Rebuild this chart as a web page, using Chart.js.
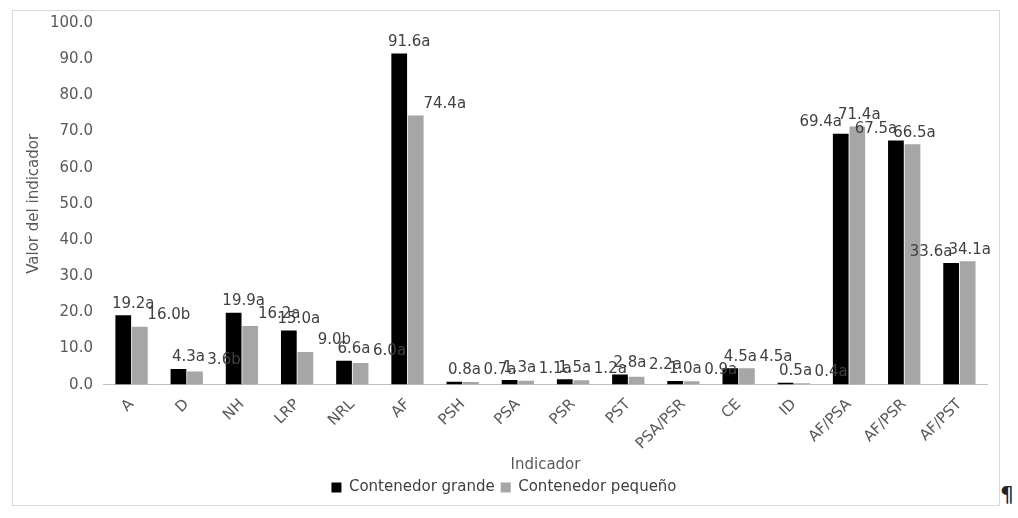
<!DOCTYPE html>
<html><head><meta charset="utf-8">
<script src="https://cdn.jsdelivr.net/npm/chart.js@4"></script>
<style>
body{margin:0;background:#fff;font-family:"DejaVu Sans",Verdana,sans-serif;}
#box{position:absolute;left:12px;top:10px;width:986px;height:494px;border:1px solid #d9d9d9;}
#pil{position:absolute;left:1000px;top:482px;font-size:22px;color:#222;}
</style></head><body>
<div id="box"><canvas id="c" width="986" height="494"></canvas></div><div id="pil">¶</div>
<script>
const categories=["A","D","NH","LRP","NRL","AF","PSH","PSA","PSR","PST","PSA/PSR","CE","ID","AF/PSA","AF/PSR","AF/PST"];
const grande=[19.2,4.3,19.9,15.0,6.6,91.6,0.8,1.3,1.5,2.8,1.0,4.5,0.5,69.4,67.5,33.6];
const pequeno=[16.0,3.6,16.2,9.0,6.0,74.4,0.7,1.1,1.2,2.2,0.9,4.5,0.4,71.4,66.5,34.1];
const letrasG=["a","a","a","a","a","a","a","a","a","a","a","a","a","a","a","a"];
const letrasP=["b","b","a","b","a","a","a","a","a","a","a","a","a","a","a","a"];
const labelPlugin={id:'lbl',afterDatasetsDraw(ch){
  const ctx=ch.ctx;ctx.save();ctx.font='15px "DejaVu Sans"';ctx.fillStyle='#404040';ctx.textAlign='center';ctx.textBaseline='bottom';
  ch.data.datasets.forEach((ds,di)=>{ch.getDatasetMeta(di).data.forEach((b,i)=>{
    const late=i>=13;const dx=di===0?(late?-20:10):(late?2:29);
    const txt=ds.data[i].toFixed(1)+(di===0?letrasG[i]:letrasP[i]);
    ctx.fillText(txt,b.x+dx,b.y-4);
  });});ctx.restore();}};
Chart.defaults.font.family='"DejaVu Sans", Verdana, sans-serif';
Chart.defaults.color='#595959';
new Chart(document.getElementById('c'),{type:'bar',
 data:{labels:categories,datasets:[
  {label:'Contenedor grande',data:grande,backgroundColor:'#000'},
  {label:'Contenedor pequeño',data:pequeno,backgroundColor:'#a6a6a6'}]},
 options:{responsive:false,animation:false,devicePixelRatio:1,
  layout:{padding:{left:8,right:12,top:8,bottom:0}},
  datasets:{bar:{categoryPercentage:0.6,barPercentage:0.95}},
  plugins:{legend:{position:'bottom',labels:{boxWidth:10,boxHeight:10,font:{size:15},color:'#404040',padding:6}},tooltip:{enabled:false}},
  scales:{
   x:{grid:{display:false},border:{color:'#bfbfbf'},ticks:{maxRotation:45,minRotation:45,font:{size:15},color:'#595959'},
      title:{display:true,text:'Indicador',font:{size:15},color:'#595959',padding:{top:0,bottom:0}}},
   y:{min:0,max:100,grid:{display:false},border:{display:false},ticks:{stepSize:10,callback:v=>v.toFixed(1),font:{size:15},color:'#595959'},
      title:{display:true,text:'Valor del indicador',font:{size:15},color:'#595959'}}}},
 plugins:[labelPlugin]});
</script>
</body></html>
